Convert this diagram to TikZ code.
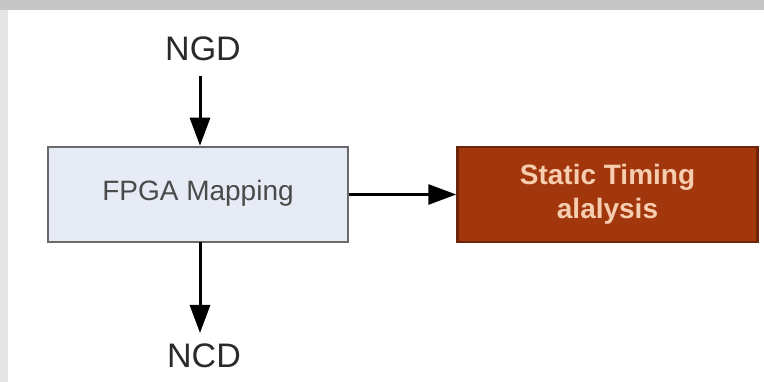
\documentclass[tikz,border=0pt]{standalone}
\usepackage{fontspec}
\setmainfont{Liberation Sans}
\usetikzlibrary{arrows.meta}
\definecolor{boxfill}{HTML}{E7EBF5}
\definecolor{boxline}{HTML}{6A6A6A}
\definecolor{redfill}{HTML}{A2360C}
\definecolor{redline}{HTML}{6E2408}
\definecolor{redtext}{HTML}{F7CDB0}
\definecolor{txt}{HTML}{2A2A2A}
\tikzset{
  blockbox/.style={draw=boxline, line width=2.5pt, fill=boxfill, minimum width=300pt, minimum height=95pt, inner sep=0pt},
  redbox/.style={draw=redline, line width=2.5pt, fill=redfill, minimum width=300pt, minimum height=95pt, inner sep=0pt, align=center},
  flow/.style={line width=3pt, -{Triangle[length=28pt,width=20pt]}},
  lbl/.style={inner sep=0pt, font=\fontsize{34}{34}\selectfont, text=txt}
}
\begin{document}
\begin{tikzpicture}[x=1pt,y=-1pt]
\useasboundingbox (0,0) rectangle (764,382);
\fill[white] (0,0) rectangle (764,382);
\fill[gray!45] (0,0) rectangle (764,10);
\fill[gray!20] (0,10) rectangle (8,382);
\node[lbl] (ngd) at (203,49) {NGD};
\node[blockbox] (map) at (198,194.5) {};
\node[inner sep=0pt, font=\fontsize{28}{28}\selectfont, text=txt!85] (maptext) at (198,193) {FPGA Mapping};
\node[redbox, font=\bfseries\fontsize{28}{34}\selectfont, text=redtext] (sta) at (607.5,194.5) {Static Timing\\alalysis};
\node[lbl] (ncd) at (204,356) {NCD};
\coordinate (ngdbot) at (200,76);
\coordinate (mapbot) at (200,242);
\coordinate (ncdtop) at (200,333);
\draw[flow] (ngdbot) -- (map.north -| ngdbot);
\draw[flow] (mapbot) -- (ncdtop);
\draw[flow] (map.east) -- (sta.west);
\end{tikzpicture}
\end{document}
